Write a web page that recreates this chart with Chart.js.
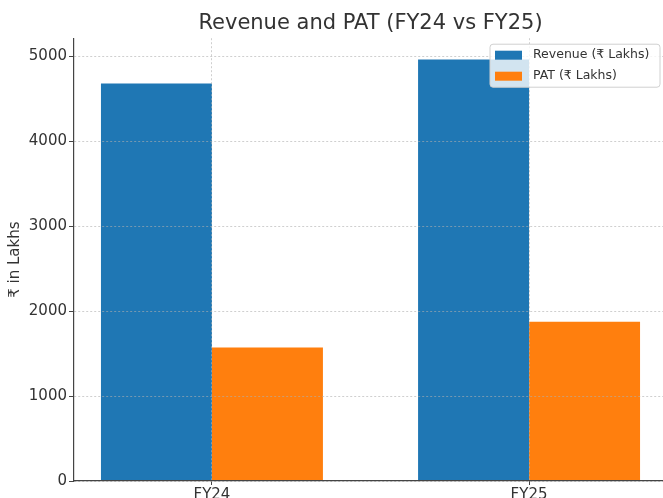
<!DOCTYPE html>
<html>
<head>
<meta charset="utf-8">
<script src="https://cdn.jsdelivr.net/npm/chart.js@4"></script>
<style>
  html, body { margin: 0; padding: 0; background: #fff; overflow: hidden; }
  #wrap { width: 668px; height: 498px; position: relative; }
</style>
</head>
<body>
<div id="wrap"><canvas id="c"></canvas></div>
<script>
// ---- data ----
const categories = ['FY24', 'FY25'];
const categoryPositions = [0, 1];
const revenue = [4678, 4960];
const pat = [1572, 1873];
const seriesLabels = ['Revenue (₹ Lakhs)', 'PAT (₹ Lakhs)'];
const yTickValues = [0, 1000, 2000, 3000, 4000, 5000];
const chartTitle = 'Revenue and PAT (FY24 vs FY25)';
const yAxisTitle = '₹ in Lakhs';

Chart.defaults.font.family = "'DejaVu Sans', sans-serif";
Chart.defaults.color = '#333';

const toPoints = (vals) => vals.map((v, i) => ({ x: categoryPositions[i], y: v }));

const legendInside = {
  id: 'legendInside',
  afterDraw(chart) {
    const ctx = chart.ctx;
    const ca = chart.chartArea;
    const w = 170, h = 43;
    const x = ca.right - 7 - w, y = ca.top + 6;
    ctx.save();
    ctx.beginPath();
    if (ctx.roundRect) ctx.roundRect(x, y, w, h, 3); else ctx.rect(x, y, w, h);
    ctx.fillStyle = 'rgba(255,255,255,0.8)';
    ctx.fill();
    ctx.strokeStyle = '#d0d0d0';
    ctx.lineWidth = 1;
    ctx.stroke();
    ctx.font = "12.5px 'DejaVu Sans'";
    ctx.textBaseline = 'middle';
    chart.data.datasets.forEach((ds, i) => {
      const cy = y + 11 + i * 21;
      ctx.fillStyle = ds.backgroundColor;
      ctx.fillRect(x + 5, cy - 4.5, 27, 9);
      ctx.fillStyle = '#333';
      ctx.fillText(ds.label, x + 43, cy);
    });
    ctx.restore();
  }
};

new Chart(document.getElementById('c'), {
  type: 'bar',
  data: {
    datasets: [
      { label: seriesLabels[0], data: toPoints(revenue), backgroundColor: '#1f77b4', borderWidth: 0,
        categoryPercentage: 0.7, barPercentage: 1.0 },
      { label: seriesLabels[1], data: toPoints(pat), backgroundColor: '#ff7f0e', borderWidth: 0,
        categoryPercentage: 0.7, barPercentage: 1.0 }
    ]
  },
  options: {
    responsive: true,
    maintainAspectRatio: false,
    animation: false,
    layout: { padding: { left: 0, right: 1, top: 0, bottom: 0 } },
    plugins: {
      legend: { display: false },
      tooltip: { enabled: false },
      title: {
        display: true,
        text: chartTitle,
        fullSize: false,
        color: '#333',
        font: { size: 21, weight: 'normal' },
        padding: { top: 11, bottom: 2 }
      }
    },
    scales: {
      x: {
        type: 'linear',
        offset: false,
        min: -0.435,
        max: 1.435,
        afterBuildTicks: (s) => { s.ticks = categoryPositions.map(v => ({ value: v })); },
        afterFit: (s) => { s.height = 17; },
        ticks: {
          callback: (v) => categories[categoryPositions.indexOf(v)],
          font: { size: 15 },
          color: '#333',
          padding: 1,
          maxRotation: 0,
          autoSkip: false
        },
        grid: {
          offset: false,
          color: 'rgba(175,175,175,0.6)',
          tickColor: '#444',
          tickLength: 4,
          z: 1
        },
        border: { display: true, color: '#444', width: 1.2, dash: [2, 2], z: 2 }
      },
      y: {
        min: 0,
        max: 5212,
        afterBuildTicks: (s) => { s.ticks = yTickValues.map(v => ({ value: v })); },
        afterFit: (s) => { s.width = 74; },
        ticks: {
          callback: (v) => String(v),
          font: { size: 15 },
          color: '#333',
          padding: 2
        },
        grid: {
          color: 'rgba(175,175,175,0.6)',
          tickColor: '#444',
          tickLength: 5,
          z: 1
        },
        border: { display: true, color: '#444', width: 1.2, dash: [2, 2], z: 2 },
        title: {
          display: true,
          text: yAxisTitle,
          font: { size: 15 },
          color: '#333',
          padding: { top: 6, bottom: 0 }
        }
      }
    }
  },
  plugins: [legendInside]
});
</script>
</body>
</html>
